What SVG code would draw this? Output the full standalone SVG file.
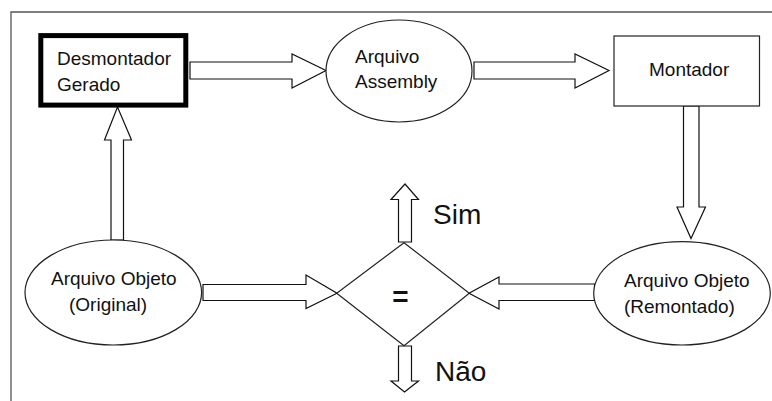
<svg xmlns="http://www.w3.org/2000/svg" width="772" height="401" viewBox="0 0 772 401">
<style>
  .lbl { font-family: "Liberation Sans", Arial, sans-serif; font-size: 19px; fill: #111; }
  .big { font-family: "Liberation Sans", Arial, sans-serif; font-size: 28px; fill: #111; }
  .shape { fill: #fff; stroke: #222; stroke-width: 1.2; }
  .arrow { fill: #fff; stroke: #111; stroke-width: 1.2; stroke-linejoin: miter; }
</style>
<rect x="0" y="0" width="772" height="401" fill="#fff"/>
<path d="M11 401 V12 H772" fill="none" stroke="#555" stroke-width="1.3"/>

<g id="connectors">
  <polygon class="arrow" points="190,62 292,62 292,54 326,70.5 292,88 292,79 190,79"/>
  <polygon class="arrow" points="474,62 575,62 575,54 609,70.5 575,88 575,79 474,79"/>
  <polygon class="arrow" points="683.5,106 699,106 699,207 705.5,207 691,238.5 677,207 683.5,207"/>
  <polygon class="arrow" points="111,240 111,140 104.5,140 117.5,107 131.5,140 123.5,140 123.5,240"/>
  <polygon class="arrow" points="203,284.5 306,284.5 306,275 337,293.3 306,308.5 306,300.5 203,300.5"/>
  <polygon class="arrow" points="594.5,284 499,284 499,277 469,293.3 499,309 499,300.5 594.5,300.5"/>
  <polygon class="arrow" points="398.5,242 398.5,199.5 391,199.5 405,184 418.5,199.5 411.5,199.5 411.5,242"/>
  <polygon class="arrow" points="398.5,346 398.5,381 391,381 404.5,392 418.5,381 411.5,381 411.5,346"/>
</g>

<g id="desmontador">
  <rect x="40.8" y="35.6" width="145" height="69.5" fill="#fff" stroke="#000" stroke-width="5"/>
  <text class="lbl" x="57" y="65">Desmontador</text>
  <text class="lbl" x="57" y="91">Gerado</text>
</g>

<g id="assembly">
  <ellipse class="shape" cx="399" cy="71" rx="73" ry="51"/>
  <text class="lbl" x="355" y="63">Arquivo</text>
  <text class="lbl" x="355" y="88">Assembly</text>
</g>

<g id="montador">
  <rect class="shape" x="614" y="36" width="145.5" height="70"/>
  <text class="lbl" x="649" y="76">Montador</text>
</g>

<g id="original">
  <ellipse class="shape" cx="113.3" cy="292.5" rx="88.3" ry="52.5"/>
  <text class="lbl" x="51" y="285">Arquivo Objeto</text>
  <text class="lbl" x="69" y="311">(Original)</text>
</g>

<g id="remontado">
  <ellipse class="shape" cx="682" cy="293.3" rx="88.3" ry="51.7"/>
  <text class="lbl" x="624" y="287">Arquivo Objeto</text>
  <text class="lbl" x="624" y="313">(Remontado)</text>
</g>

<g id="compare">
  <polygon points="404,242.7 469.3,293.3 404,345.7 336.7,293.3" fill="none" stroke="#222" stroke-width="1.2"/>
  <text class="big" x="400.5" y="306" text-anchor="middle" font-weight="bold">=</text>
</g>

<g id="sim">
  <text class="big" x="433" y="224">Sim</text>
</g>
<g id="nao">
  <text class="big" x="435" y="381">Não</text>
</g>
</svg>
